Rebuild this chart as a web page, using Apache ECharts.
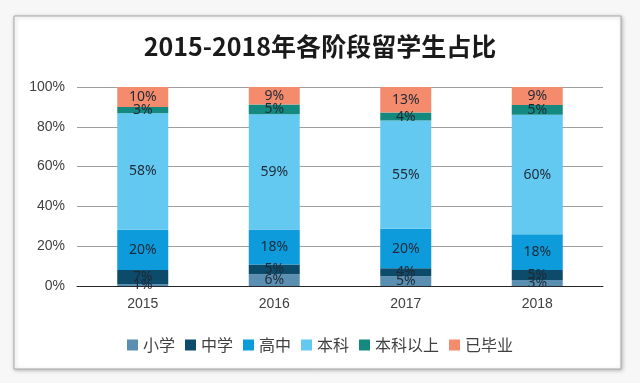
<!DOCTYPE html>
<html><head><meta charset="utf-8">
<script src="https://cdn.jsdelivr.net/npm/echarts@6/dist/echarts.min.js"></script>
<style>html,body{margin:0;padding:0;background:#f7f7f7;}#c{width:640px;height:383px;}</style>
</head><body><div id="c"></div>
<script>
const years = ['2015','2016','2017','2018'];
const seriesNames = ['小学','中学','高中','本科','本科以上','已毕业'];
const xiaoxue   = [1, 6, 5, 3];
const zhongxue  = [7, 5, 4, 5];
const gaozhong  = [20, 18, 20, 18];
const benke     = [58, 59, 55, 60];
const benkeUp   = [3, 5, 4, 5];
const graduated = [10, 9, 13, 9];
const yTicks = ['0%','20%','40%','60%','80%','100%'];

const raw = [xiaoxue, zhongxue, gaozhong, benke, benkeUp, graduated];
const colors = ['#5b8fb1','#0d4b6b','#0d9bdb','#64c9f1','#13897f','#f58b6d'];
const totals = years.map((_, i) => raw.reduce((s, a) => s + a[i], 0));

const chart = echarts.init(document.getElementById('c'), null, {renderer: 'canvas'});
chart.setOption({
  backgroundColor: '#f7f7f7',
  animation: false,
  graphic: [{
    type: 'rect', z: -10,
    shape: {x: 14, y: 16, width: 607, height: 353},
    style: {fill: '#ffffff', stroke: '#a8a8a8', lineWidth: 1, shadowColor: 'rgba(0,0,0,0.25)', shadowBlur: 4, shadowOffsetX: 1, shadowOffsetY: 1}
  }],
  title: {
    text: '2015-2018年各阶段留学生占比',
    left: 'center', top: 29,
    textStyle: {fontFamily: '"Noto Sans CJK SC", sans-serif', fontWeight: 'bold', fontSize: 25, color: '#1a1a1a'}
  },
  legend: {
    data: seriesNames, left: 'center', top: 332,
    itemWidth: 11, itemHeight: 11, itemGap: 10,
    icon: 'rect',
    textStyle: {fontFamily: '"Noto Sans CJK SC", sans-serif', fontSize: 16, color: '#404040'}
  },
  grid: {left: 77, right: 37, top: 87, bottom: 97},
  xAxis: {
    type: 'category', data: years,
    axisLine: {lineStyle: {color: '#262626', width: 1}},
    axisTick: {show: false},
    axisLabel: {fontFamily: '"Liberation Sans", Arial, sans-serif', fontSize: 14, color: '#404040', margin: 11}
  },
  yAxis: {
    type: 'value', min: 0, max: 100, interval: 20,
    axisLine: {show: false}, axisTick: {show: false},
    splitLine: {lineStyle: {color: '#9e9e9e', width: 1}},
    axisLabel: {
      fontFamily: '"Liberation Sans", Arial, sans-serif', fontSize: 14, color: '#404040', margin: 12,
      formatter: v => yTicks[Math.round(v / 20)]
    }
  },
  series: raw.map((arr, k) => ({
    name: seriesNames[k], type: 'bar', stack: 'total', barWidth: 51,
    itemStyle: {color: colors[k]},
    data: arr.map((v, i) => ({value: v / totals[i] * 100, raw: v})),
    label: {
      show: true, position: 'inside',
      fontFamily: '"Noto Sans", sans-serif', fontSize: 14, color: '#1e2a36',
      formatter: p => p.data.raw + '%'
    }
  }))
});
</script></body></html>
